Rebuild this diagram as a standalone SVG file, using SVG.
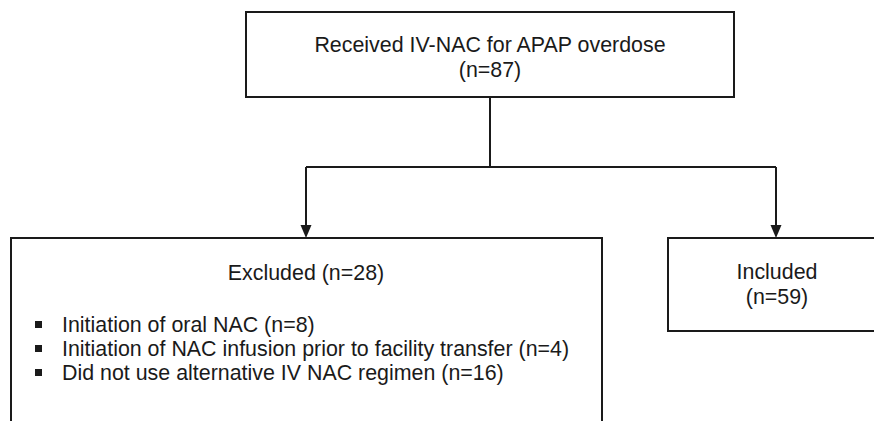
<svg xmlns="http://www.w3.org/2000/svg" width="874" height="421" viewBox="0 0 874 421">
<style>
.box{fill:#fff;stroke:#1a1a1a;stroke-width:2}
.t{font-family:"Liberation Sans",Arial,sans-serif;font-size:21.4px;fill:#1a1a1a}
.c{text-anchor:middle}
.ln{fill:none;stroke:#1a1a1a;stroke-width:2}
.ah{fill:#1a1a1a}
.bul{fill:#1a1a1a}
</style>
<rect width="874" height="421" fill="#fff"/>
<g id="connectors">
<path class="ln" d="M490,97 V167"/>
<path class="ln" d="M306,167 H776"/>
<path class="ln" d="M306,167 V228"/>
<path class="ah" d="M300.5,225 L311.5,225 L306,238 Z"/>
<path class="ln" d="M776,167 V228"/>
<path class="ah" d="M770.5,225 L781.5,225 L776,238 Z"/>
</g>
<g id="top">
<rect class="box" x="246" y="12" width="488" height="85"/>
<text class="t c" x="490" y="52">Received IV-NAC for APAP overdose</text>
<text class="t c" x="490" y="77">(n=87)</text>
</g>
<g id="excluded">
<rect class="box" x="11" y="238" width="591" height="200"/>
<text class="t c" x="306" y="280">Excluded (n=28)</text>
<rect class="bul" x="35" y="321" width="7" height="7"/>
<text class="t" x="62" y="332">Initiation of oral NAC (n=8)</text>
<rect class="bul" x="35" y="345" width="7" height="7"/>
<text class="t" x="62" y="356">Initiation of NAC infusion prior to facility transfer (n=4)</text>
<rect class="bul" x="35" y="369" width="7" height="7"/>
<text class="t" x="62" y="380">Did not use alternative IV NAC regimen (n=16)</text>
</g>
<g id="included">
<rect class="box" x="668" y="238" width="220" height="93"/>
<text class="t c" x="777" y="279">Included</text>
<text class="t c" x="777" y="304">(n=59)</text>
</g>
</svg>
